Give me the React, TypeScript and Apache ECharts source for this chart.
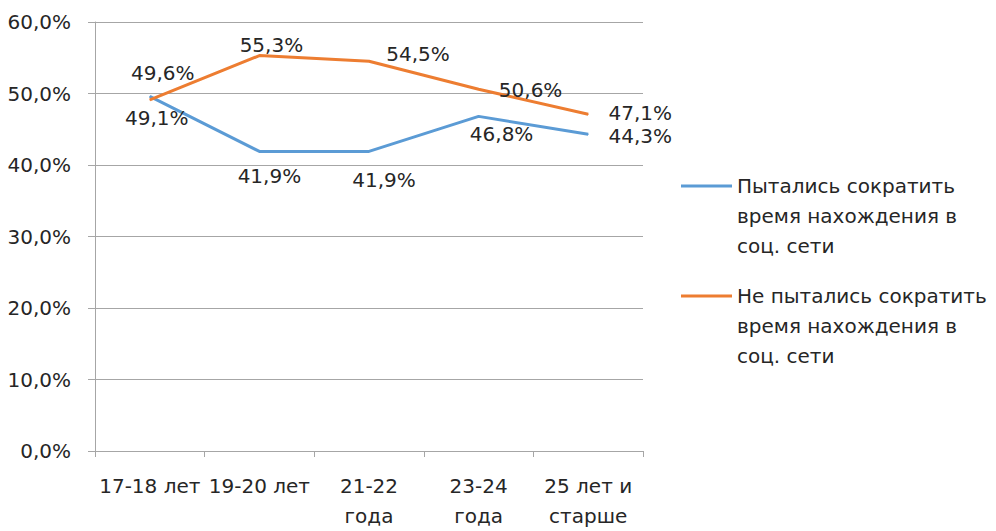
import React, { useEffect, useRef } from "react";
import * as echarts from "echarts";

const categories = ["17-18 лет", "19-20 лет", "21-22\nгода", "23-24\nгода", "25 лет и\nстарше"];
const triedValues = [0.496, 0.419, 0.419, 0.468, 0.443];
const notTriedValues = [0.491, 0.553, 0.545, 0.506, 0.471];
const seriesNames = [
  "Пытались сократить\nвремя нахождения в\nсоц. сети",
  "Не пытались сократить\nвремя нахождения в\nсоц. сети",
];
const seriesColors = ["#5B9BD5", "#ED7D31"];
const triedLabelOffsets = [[13, -23], [10, 25], [15, 29], [23, 18], [52, 2]];
const notTriedLabelOffsets = [[7, 18], [12, -11], [49, -7], [52, 1], [52, -1]];

const FONT = "DejaVu Sans";
const TEXT = "#262626";
const GRAY = "#A6A6A6";

const pct = (v: number) => (v * 100).toFixed(1).replace(".", ",") + "%";

const LEGEND_ICON = "path://M0,13.5H51V16.5H0Z M0,0H0.01V0.01H0Z M0,89.99H0.01V90H0Z";

function makeSeries(name: string, values: number[], offsets: number[][], color: string) {
  return {
    name,
    type: "line",
    data: values.map((v, i) => ({
      value: v,
      label: { offset: offsets[i] },
    })),
    symbol: "circle",
    symbolSize: 1,
    showSymbol: true,
    itemStyle: { color, borderWidth: 0 },
    lineStyle: { color, width: 3 },
    label: {
      show: true,
      position: "inside",
      formatter: (p: any) => pct(p.value),
      color: TEXT,
      fontSize: 20,
      lineHeight: 21,
      fontFamily: FONT,
      textBorderWidth: 0,
    },
    emphasis: { disabled: true },
  };
}

export default function App() {
  const ref = useRef<HTMLDivElement>(null);
  useEffect(() => {
    if (!ref.current) return;
    const chart = echarts.init(ref.current, undefined, { renderer: "svg" });
    chart.setOption({
      animation: false,
      backgroundColor: "#ffffff",
      grid: { left: 95, right: 353, top: 22, bottom: 77, containLabel: false },
      xAxis: {
        type: "category",
        data: categories,
        boundaryGap: true,
        axisLine: { show: true, lineStyle: { color: GRAY, width: 1 } },
        axisTick: { show: true, length: 6, lineStyle: { color: GRAY } },
        axisLabel: {
          interval: 0,
          margin: 20,
          fontSize: 20,
          lineHeight: 30,
          fontFamily: FONT,
          color: TEXT,
        },
        splitLine: { show: false },
      },
      yAxis: {
        type: "value",
        min: 0,
        max: 0.6,
        interval: 0.1,
        axisLine: { show: true, lineStyle: { color: GRAY, width: 1 } },
        axisTick: { show: true, length: 7, lineStyle: { color: GRAY } },
        axisLabel: {
          margin: 24,
          fontSize: 20,
          fontFamily: FONT,
          color: TEXT,
          formatter: (v: number) => pct(v),
        },
        splitLine: { show: true, lineStyle: { color: GRAY, width: 1 } },
      },
      legend: {
        orient: "vertical",
        left: 681,
        top: 171,
        padding: 0,
        itemGap: 20,
        itemWidth: 51,
        itemHeight: 90,
        symbolKeepAspect: false,
        selectedMode: false,
        icon: LEGEND_ICON,
        itemStyle: { borderWidth: 0 },
        data: seriesNames.map((n, i) => ({
          name: n,
          icon: LEGEND_ICON,
          itemStyle: { color: seriesColors[i], borderWidth: 0 },
        })),
        textStyle: {
          fontSize: 20,
          lineHeight: 30,
          fontFamily: FONT,
          color: TEXT,
        },
      },
      series: [
        makeSeries(seriesNames[0], triedValues, triedLabelOffsets, seriesColors[0]),
        makeSeries(seriesNames[1], notTriedValues, notTriedLabelOffsets, seriesColors[1]),
      ],
    });
    return () => chart.dispose();
  }, []);
  return (
    <div
      ref={ref}
      style={{ position: "fixed", left: 0, top: 0, width: 996, height: 531, background: "#fff" }}
    />
  );
}
